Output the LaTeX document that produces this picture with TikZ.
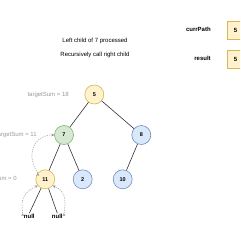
\documentclass[tikz,border=0pt]{standalone}
\usepackage{fontspec}
\setmainfont{Liberation Sans}
\usetikzlibrary{arrows.meta}
\definecolor{yfill}{HTML}{FFF2CC}
\definecolor{ydraw}{HTML}{D6B656}
\definecolor{gfill}{HTML}{D5E8D4}
\definecolor{gdraw}{HTML}{82B366}
\definecolor{bfill}{HTML}{DAE8FC}
\definecolor{bdraw}{HTML}{6C8EBF}
\definecolor{sumgray}{HTML}{999999}
\begin{document}
\begin{tikzpicture}[x=1pt,y=-1pt,>=Stealth,line width=0.6pt,
  tree node/.style={circle,draw,minimum size=19pt,inner sep=0pt,font=\fontsize{5.5}{6}\selectfont\bfseries},
  yellow node/.style={tree node,fill=yfill,draw=ydraw},
  green node/.style={tree node,fill=gfill,draw=gdraw},
  blue node/.style={tree node,fill=bfill,draw=bdraw},
  null node/.style={inner sep=1pt,font=\fontsize{6}{7}\selectfont\bfseries},
  sum label/.style={anchor=east,inner sep=0pt,text=sumgray,font=\fontsize{6}{7}\selectfont},
  info/.style={inner sep=0pt,font=\fontsize{6}{7}\selectfont},
  var label/.style={anchor=east,inner sep=0pt,font=\fontsize{6}{7}\selectfont\bfseries},
  var box/.style={draw=ydraw,fill=yfill,minimum width=17pt,minimum height=18pt,inner sep=0pt,font=\fontsize{6}{7}\selectfont\bfseries},
  tree edge/.style={draw=black!80,line width=0.6pt},
  back edge/.style={->,draw=sumgray,dashed,dash pattern=on 1.2pt off 1.2pt,line width=0.5pt,>={Stealth[length=3pt,width=3pt]}}]
\useasboundingbox (0,0) rectangle (240,240);
\clip (0,0) rectangle (240,240);
\node[info] (line1) at (95,41) {Left child of 7 processed};
\node[info] (line2) at (95,55) {Recursively call right child};
\node[var label] (currPath) at (211,29) {currPath};
\node[var label] (result) at (211,58) {result};
\node[var box] (pathbox) at (235.5,30) {5};
\node[var box] (resbox) at (235.5,59) {5};
\node[yellow node] (5) at (94.3,94.5) {5};
\node[green node] (7) at (64,135) {7};
\node[blue node] (8) at (141.3,135) {8};
\node[yellow node] (11) at (45.3,179.3) {11};
\node[blue node] (2) at (82.7,179.3) {2};
\node[blue node] (10) at (122.7,179.3) {10};
\node[null node] (nullL) at (29.3,216.7) {null};
\node[null node] (nullR) at (57.3,216.7) {null};
\node[sum label] (sum18) at (69,95) {targetSum = 18};
\node[sum label] (sum11) at (37,135) {targetSum = 11};
\node[sum label] (sum0) at (17,179) {targetSum = 0};
\path[tree edge] (5) edge (7);
\path[tree edge] (5) edge (8);
\path[tree edge] (7) edge (11);
\path[tree edge] (7) edge (2);
\path[tree edge] (8) edge (10);
\path[tree edge] (11) edge (nullL.north);
\path[tree edge] (11) edge (nullR.north);
\path[back edge] (11.140) edge[out=125,in=180,looseness=1.3] (7.west);
\path[back edge] (nullL.north west) edge[out=100,in=205,looseness=1.2] (11.220);
\path[back edge] (nullR.north east) edge[out=80,in=-25,looseness=1.2] (11.-40);
\end{tikzpicture}
\end{document}
